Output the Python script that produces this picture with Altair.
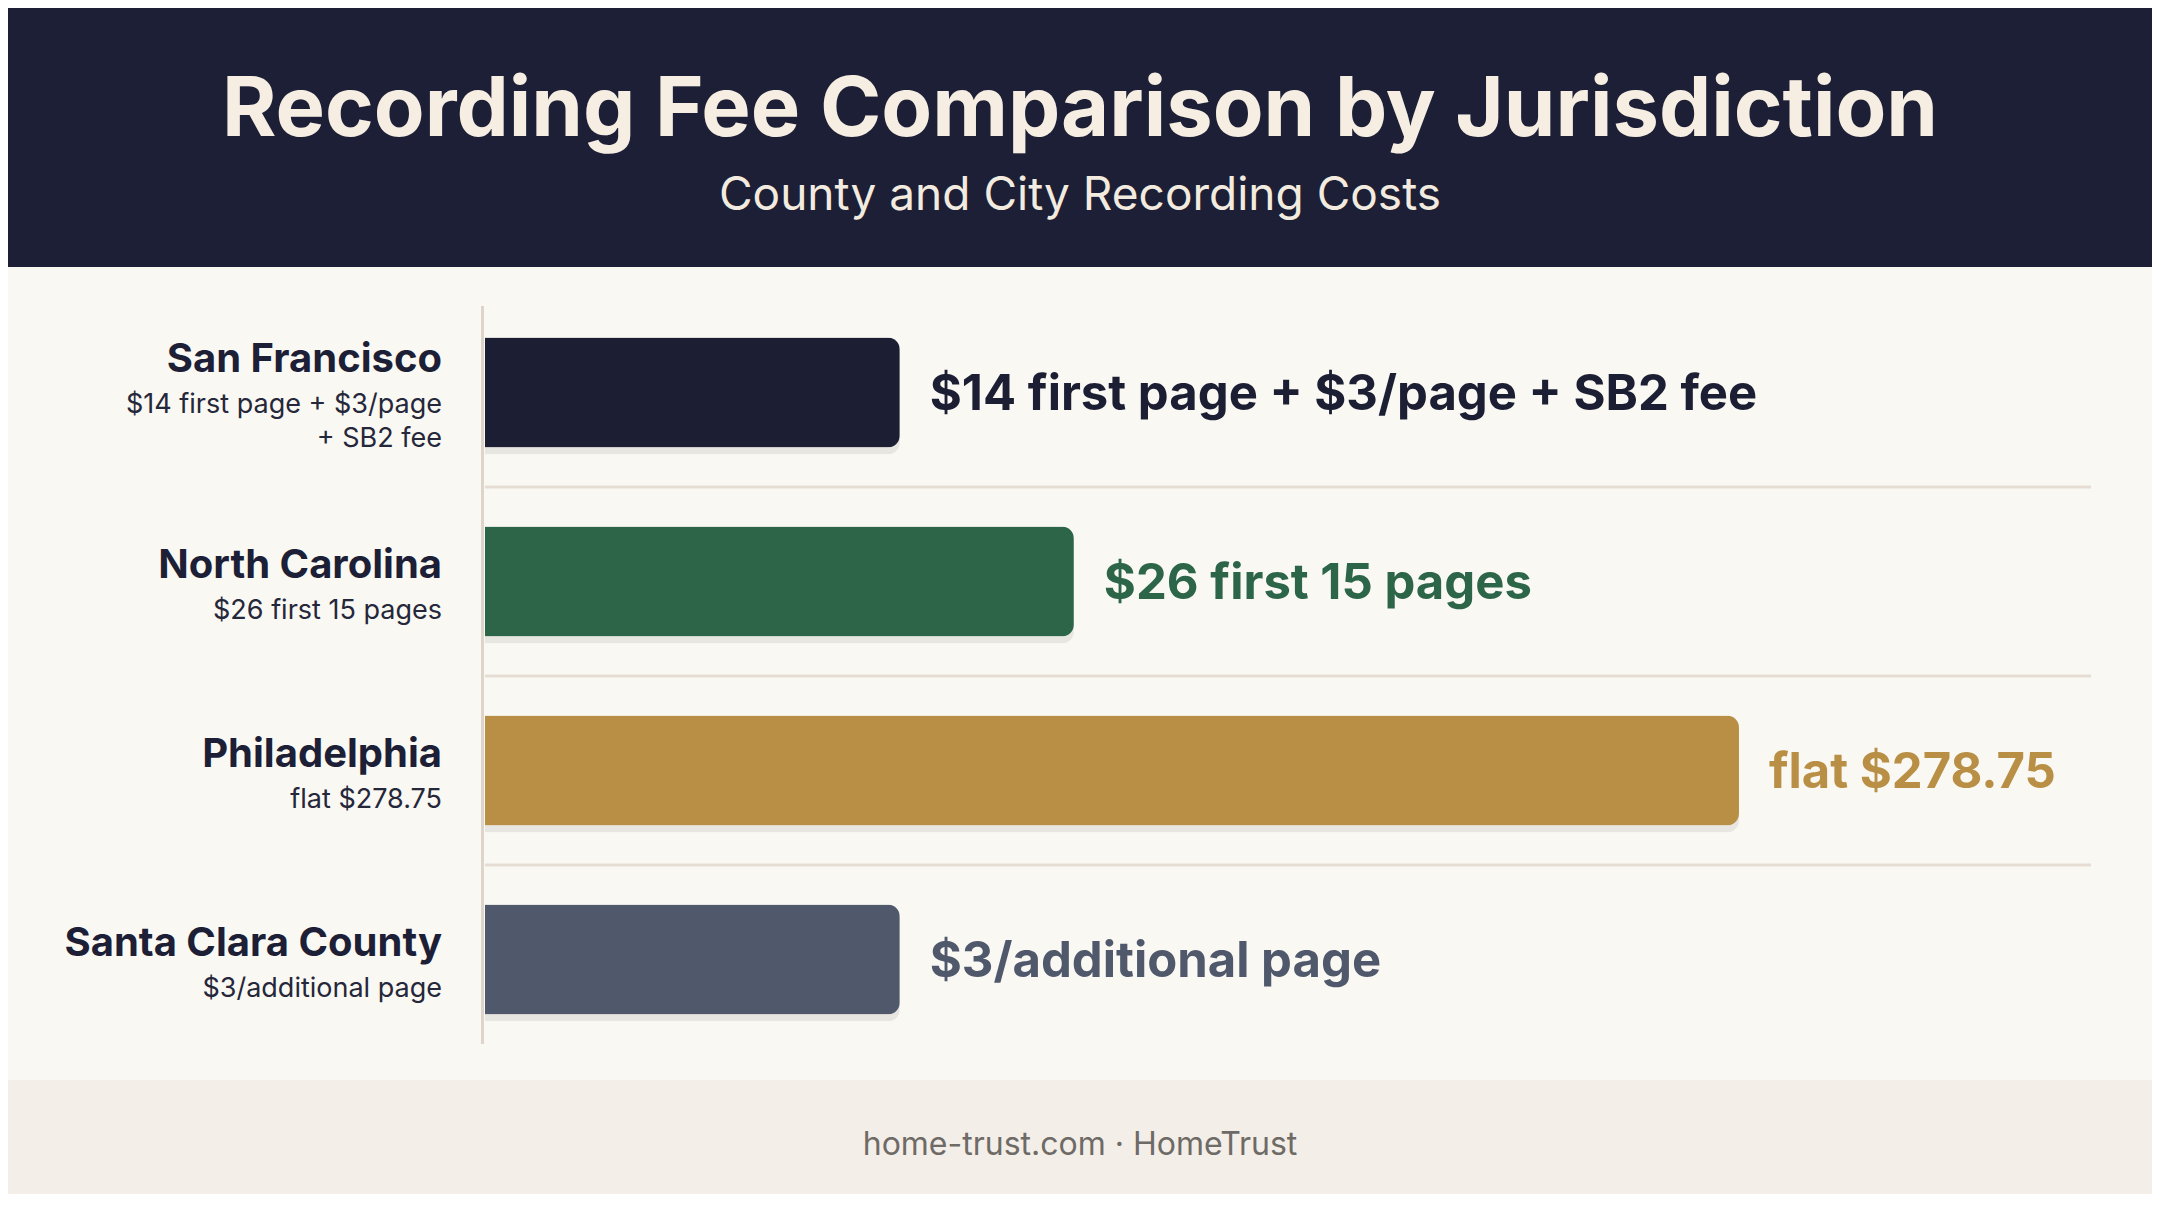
import altair as alt
import pandas as pd

# ---- data ----
jurisdictions = ["San Francisco", "North Carolina", "Philadelphia", "Santa Clara County"]
fee_notes = ["$14 first page + $3/page\n+ SB2 fee", "$26 first 15 pages", "flat $278.75", "$3/additional page"]
value_labels = ["$14 first page + $3/page + SB2 fee", "$26 first 15 pages", "flat $278.75", "$3/additional page"]
bar_lengths = [92.2, 130.9, 278.75, 92.2]   # displayed bar length (Philadelphia = 278.75 scale units)
bar_colors = ["#1c1e33", "#2d6549", "#b88f45", "#50596b"]

title_text = "Recording Fee Comparison by Jurisdiction"
subtitle_text = "County and City Recording Costs"
footer_text = "home-trust.com · HomeTrust"

df = pd.DataFrame({
    "jurisdiction": jurisdictions,
    "note": fee_notes,
    "vlabel": value_labels,
    "length": bar_lengths,
    "idx": list(range(len(jurisdictions))),
    "nlines": [n.count("\n") + 1 for n in fee_notes],
})

W, H = 2144, 1186
FONT = "Inter"
DARK = "#1c1f36"

xscale = alt.Scale(domain=[0, 357.0], range=[477, 2083], nice=False, zero=True)
yscale = alt.Scale(domain=jurisdictions, range=[290, 1046], paddingInner=0, paddingOuter=0)
cscale = alt.Scale(domain=jurisdictions, range=bar_colors)

one = pd.DataFrame({"a": [0]})

header = alt.Chart(one).mark_rect(color=DARK).encode(
    x=alt.value(0), x2=alt.value(W), y=alt.value(0), y2=alt.value(259))
footer = alt.Chart(one).mark_rect(color="#f3eee8").encode(
    x=alt.value(0), x2=alt.value(W), y=alt.value(1072), y2=alt.value(H))

title = alt.Chart(one).mark_text(
    text=title_text, font=FONT, fontSize=83, fontWeight="bold", color="#f6eee2",
    align="center", baseline="alphabetic").encode(x=alt.value(1072), y=alt.value(128))
subtitle = alt.Chart(one).mark_text(
    text=subtitle_text, font=FONT, fontSize=46, color="#f3ebdf",
    align="center", baseline="alphabetic").encode(x=alt.value(1072), y=alt.value(202))
foot = alt.Chart(one).mark_text(
    text=footer_text, font=FONT, fontSize=32, color="#6e6a66",
    align="center", baseline="middle").encode(x=alt.value(1072), y=alt.value(1137))

axis_line = alt.Chart(one).mark_rule(color="#ddd5cb", strokeWidth=3).encode(
    x=alt.value(474.5), y=alt.value(298), y2=alt.value(1036))

base = alt.Chart(df)

separators = base.transform_filter("datum.idx < 3").mark_rule(
    color="#e5ddd3", strokeWidth=3).encode(
    y=alt.Y("jurisdiction:N", scale=yscale, axis=None, bandPosition=1),
    x=alt.value(477), x2=alt.value(2083))

shadow = base.mark_bar(height=112, cornerRadiusEnd=12, color="#000000",
                       opacity=0.07, yOffset=6).encode(
    x=alt.X("length:Q", scale=xscale, axis=None),
    y=alt.Y("jurisdiction:N", scale=yscale, axis=None))

bars = base.mark_bar(height=110, cornerRadiusEnd=12).encode(
    x=alt.X("length:Q", scale=xscale, axis=None),
    y=alt.Y("jurisdiction:N", scale=yscale, axis=None),
    color=alt.Color("jurisdiction:N", scale=cscale, legend=None))

vlabels = base.mark_text(align="left", baseline="middle", dx=30, dy=2,
                         font=FONT, fontSize=49, fontWeight="bold").encode(
    x=alt.X("length:Q", scale=xscale, axis=None),
    y=alt.Y("jurisdiction:N", scale=yscale, axis=None),
    text="vlabel:N",
    color=alt.Color("jurisdiction:N", scale=cscale, legend=None))

label_layers = []
for n in sorted(set(df["nlines"])):
    name_dy = -4 - 17 * (n - 1)
    sub = base.transform_filter(f"datum.nlines == {n}")
    label_layers.append(sub.mark_text(
        align="right", baseline="alphabetic", dy=name_dy, font=FONT, fontSize=40,
        fontWeight="bold", color=DARK).encode(
        x=alt.value(434),
        y=alt.Y("jurisdiction:N", scale=yscale, axis=None),
        text="jurisdiction:N"))
    label_layers.append(sub.mark_text(
        align="right", baseline="alphabetic", dy=name_dy + 41, font=FONT, fontSize=27,
        lineBreak="\n", lineHeight=34, color="#25273a").encode(
        x=alt.value(434),
        y=alt.Y("jurisdiction:N", scale=yscale, axis=None),
        text="note:N"))

chart = alt.layer(
    header, footer, title, subtitle, foot, axis_line, separators, shadow, bars, vlabels,
    *label_layers
).properties(
    width=W, height=H, background="#faf8f3", padding=0,
    autosize=alt.AutoSizeParams(type="none")
).configure_view(stroke=None)

chart.save("out.html", embed_options={"renderer": "svg", "actions": False})
